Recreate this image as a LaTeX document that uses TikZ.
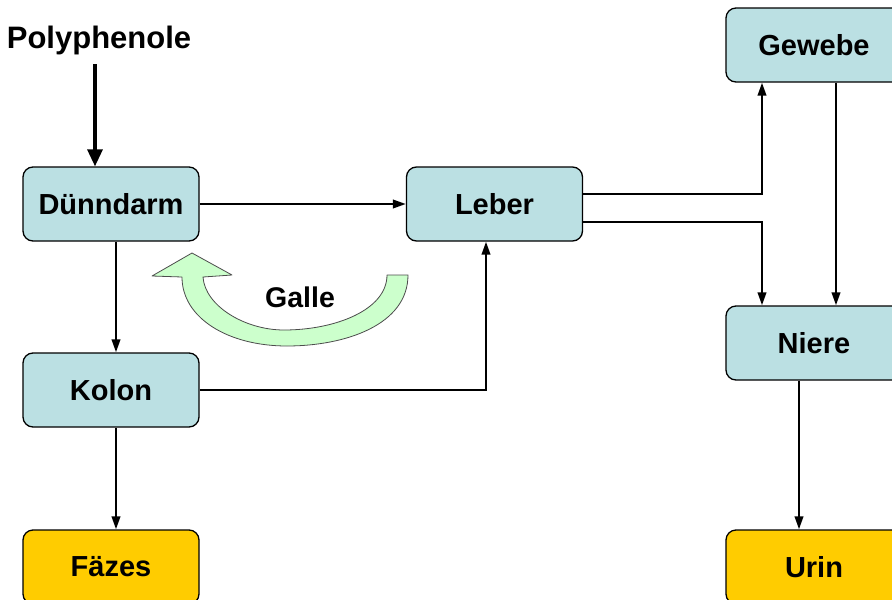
\documentclass[tikz,border=0pt]{standalone}
\usepackage{fontspec}
\setmainfont{Liberation Sans}
\usetikzlibrary{arrows.meta}
\definecolor{boxblue}{HTML}{BBE0E3}
\definecolor{boxyellow}{HTML}{FFCC00}
\definecolor{gallegreen}{HTML}{CCFFCC}
\tikzset{
  organ/.style={draw=black, line width=1.3pt, rounded corners=10pt, fill=boxblue,
    minimum width=176pt, minimum height=74pt, inner sep=0pt,
    font=\fontsize{29}{29}\selectfont\bfseries},
  outbox/.style={organ, fill=boxyellow},
  flow/.style={draw=black, line width=2.2pt, -{Triangle[length=13pt,width=8.5pt]}},
  bigflow/.style={draw=black, line width=3.2pt, -{Triangle[length=17pt,width=15pt]}},
  lbl/.style={font=\fontsize{31}{31}\selectfont\bfseries, inner sep=0pt}
}
\begin{document}
\begin{tikzpicture}[x=1pt,y=-1pt]
\useasboundingbox (0,0) rectangle (892,600);
\clip (0,0) rectangle (892,600);
\node[lbl] (poly) at (99,40) {Polyphenole};
\node[organ] (duenn) at (111,204) {Dünndarm};
\node[organ] (leber) at (494.5,204) {Leber};
\node[organ] (kolon) at (111,390) {Kolon};
\node[outbox] (faezes) at (111,567) {Fäzes};
\node[organ] (gewebe) at (814,45) {Gewebe};
\node[organ] (niere) at (814,343) {Niere};
\node[outbox] (urin) at (814,567) {Urin};
\coordinate (ps) at (95,64);
\draw[bigflow] (ps) -- (ps |- duenn.north);
\draw[flow] (duenn.east) -- (leber.west);
\draw[flow] ([xshift=5pt]duenn.south) -- ([xshift=5pt]kolon.north);
\draw[flow] ([xshift=5pt]kolon.south) -- ([xshift=5pt]faezes.north);
\draw[flow] (kolon.east) -| ([xshift=-8.5pt]leber.south);
\draw[flow] ([yshift=10pt]leber.east) -| ([xshift=-52pt]gewebe.south);
\draw[flow] ([yshift=-18pt]leber.east) -| ([xshift=-52pt]niere.north);
\draw[flow] ([xshift=22pt]gewebe.south) -- ([xshift=22pt]niere.north);
\draw[flow] ([xshift=-15pt]niere.south) -- ([xshift=-15pt]urin.north);
% Galle arrow
\draw[draw=black!70, line width=0.8pt, fill=gallegreen, line join=round]
  (408,275) .. controls (408,325) and (345,346) .. (287,346)
  .. controls (228,346) and (182,318) .. (182,277)
  -- (152,276) -- (192,253) -- (232,275) -- (203,277)
  .. controls (205,306) and (245,330) .. (284,330)
  .. controls (335,330) and (387,310) .. (387,275) -- cycle;
\node[font=\fontsize{28.5}{28.5}\selectfont\bfseries, inner sep=0pt] (galle) at (300,297) {Galle};
\end{tikzpicture}
\end{document}
